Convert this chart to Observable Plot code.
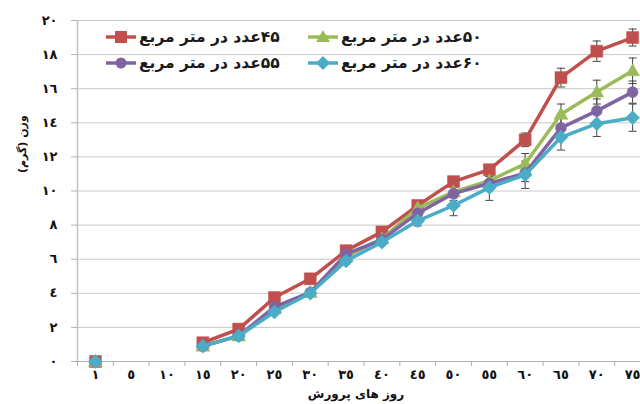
<!DOCTYPE html>
<html>
<head>
<meta charset="utf-8">
<script src="https://cdn.jsdelivr.net/npm/d3@7"></script>
<script src="https://cdn.jsdelivr.net/npm/@observablehq/plot@0.6"></script>
<style>
  html, body { margin: 0; padding: 0; background: #fff; overflow: hidden; }
  #wrap { position: relative; width: 640px; height: 404px; }
  .leg { position: absolute; display: flex; align-items: center; font-family: "DejaVu Sans", sans-serif; font-size: 15.5px; font-weight: bold; color: #1a1a1a; white-space: nowrap; }
  .leg span { direction: rtl; unicode-bidi: isolate; margin-left: 3px; }
</style>
</head>
<body>
<div id="wrap"></div>
<script>
// ---- data ----
const days = [1, 5, 10, 15, 20, 25, 30, 35, 40, 45, 50, 55, 60, 65, 70, 75];
const xTickLabels = ["١","٥","١٠","١٥","٢٠","٢٥","٣٠","٣٥","٤٠","٤٥","٥٠","٥٥","٦٠","٦٥","٧٠","٧٥"];
const yTicks = [0, 2, 4, 6, 8, 10, 12, 14, 16, 18, 20];
const yTickLabels = ["٠","٢","٤","٦","٨","١٠","١٢","١٤","١٦","١٨","٢٠"];
const seriesNames = ["۴۵عدد در متر مربع", "۵۰عدد در متر مربع", "۵۵عدد در متر مربع", "۶۰عدد در متر مربع"];
const seriesColors = ["#C0504D", "#9BBB59", "#8064A2", "#4BACC6"];

const w45 = [0, null, null, 1.1, 1.9, 3.75, 4.85, 6.5, 7.6, 9.15, 10.55, 11.25, 13.0, 16.65, 18.2, 19.0];
const w50 = [0, null, null, 0.9, 1.5, 3.1, 4.05, 6.15, 7.2, 9.0, 9.95, 10.6, 11.6, 14.5, 15.8, 17.05];
const w55 = [0, null, null, 0.9, 1.5, 3.2, 4.05, 6.3, 7.15, 8.7, 9.85, 10.45, 11.05, 13.7, 14.7, 15.8];
const w60 = [0, null, null, 0.9, 1.5, 2.9, 4.0, 5.9, 7.0, 8.25, 9.15, 10.2, 10.95, 13.15, 13.95, 14.3];

const e45 = [0, null, null, 0.1, 0.15, 0.2, 0.2, 0.2, 0.2, 0.25, 0.3, 0.25, 0.4, 0.55, 0.6, 0.5];
const e50 = [0, null, null, 0.1, 0.1, 0.15, 0.15, 0.2, 0.2, 0.3, 0.35, 0.35, 0.6, 0.6, 0.7, 0.75];
const e55 = [0, null, null, 0.1, 0.1, 0.15, 0.15, 0.2, 0.2, 0.3, 0.4, 0.4, 0.5, 0.6, 0.7, 0.65];
const e60 = [0, null, null, 0.1, 0.1, 0.15, 0.15, 0.2, 0.2, 0.3, 0.6, 0.75, 0.8, 0.75, 0.75, 0.8];

const values = [w45, w50, w55, w60];
const errors = [e45, e50, e55, e60];

// ---- symbols ----
const symSquare = {draw(c) { c.rect(-6, -6, 12, 12); }};
const symTriangle = {draw(c) { c.moveTo(0, -7); c.lineTo(7, 5); c.lineTo(-7, 5); c.closePath(); }};
const symCircle = {draw(c) { c.moveTo(5.5, 0); c.arc(0, 0, 5.5, 0, 2 * Math.PI); }};
const symDiamond = {draw(c) { c.moveTo(0, -7); c.lineTo(7, 0); c.lineTo(0, 7); c.lineTo(-7, 0); c.closePath(); }};
const symCap = {draw(c) { c.moveTo(-4, 0); c.lineTo(4, 0); }};
const symbols = [symSquare, symTriangle, symCircle, symDiamond];

// ---- table ----
const rows = [];
values.forEach((vals, s) => vals.forEach((v, i) => rows.push({s, i, day: days[i], v, e: errors[s][i]})));

const seriesMarks = [];
for (let s = 0; s < 4; s++) {
  const data = rows.filter(r => r.s === s);
  const withVal = data.filter(r => r.v != null);
  const withErr = withVal.filter(r => r.e > 0);
  seriesMarks.push(
    Plot.ruleX(withErr, {x: "i", y1: r => r.v - r.e, y2: r => r.v + r.e, stroke: "#444", strokeWidth: 1}),
    Plot.dot(withErr, {x: "i", y: r => r.v - r.e, symbol: symCap, stroke: "#444", fill: "none", strokeWidth: 1}),
    Plot.dot(withErr, {x: "i", y: r => r.v + r.e, symbol: symCap, stroke: "#444", fill: "none", strokeWidth: 1})
  );
}
for (let s = 0; s < 4; s++) {
  const data = rows.filter(r => r.s === s);
  seriesMarks.push(
    Plot.line(data.filter(r => r.i > 0), {x: "i", y: "v", stroke: seriesColors[s], strokeWidth: 3.5, curve: "linear"}),
    Plot.dot(data.filter(r => r.v != null), {x: "i", y: "v", symbol: symbols[s], fill: seriesColors[s], stroke: seriesColors[s], strokeWidth: 0.5, r: 6})
  );
}

const bounds = d3.range(days.length + 1).map(i => i - 0.5);

const chart = Plot.plot({
  width: 640,
  height: 404,
  marginTop: 20,
  marginBottom: 43,
  marginLeft: 77,
  marginRight: 0,
  style: {fontFamily: "DejaVu Sans, sans-serif", background: "white", overflow: "hidden"},
  x: {type: "linear", domain: [-0.5, days.length - 0.5], range: [77, 650], label: null},
  y: {domain: [0, 20], label: null},
  marks: [
    Plot.gridY(yTicks.slice(1), {stroke: "#c8c8c8", strokeOpacity: 1, strokeWidth: 1}),
    Plot.ruleY([0], {stroke: "#b0b0b0", strokeWidth: 1}),
    Plot.ruleX([-0.5], {stroke: "#c0c0c0", strokeWidth: 1.5}),
    Plot.ruleX(bounds, {y1: 0, y2: 0, insetBottom: -5, stroke: "#b0b0b0"}),
    Plot.axisY(yTicks, {tickSize: 6, tickPadding: 14, stroke: "#b0b0b0", tickFormat: (d) => yTickLabels[yTicks.indexOf(d)], fontSize: 13, fontWeight: "bold", fill: "#111", label: null}),
    Plot.axisX(d3.range(days.length), {tickSize: 0, tickPadding: 8, tickFormat: (i) => xTickLabels[i], fontSize: 13, fontWeight: "bold", fill: "#111", label: null}),
    ...seriesMarks,
    Plot.text(["وزن (گرم)"], {frameAnchor: "left", rotate: -90, dx: -55, dy: -18, fontSize: 11, fontWeight: "bold", fill: "#111"}),
    Plot.text(["روز های پرورش"], {frameAnchor: "bottom", dy: 36, dx: -3, fontSize: 12, fontWeight: "bold", fill: "#111"})
  ]
});

const wrap = document.getElementById("wrap");
wrap.appendChild(chart);

// ---- legend (overlay inside the plot area) ----
const legendPos = [[106, 37], [308, 37], [106, 63], [308, 63]];
const symbolPaths = [
  '<rect x="9" y="2" width="12" height="12"/>',
  '<path d="M15 1 L22 13 L8 13 Z"/>',
  '<circle cx="15" cy="8" r="5.5"/>',
  '<path d="M15 1 L22 8 L15 15 L8 8 Z"/>'
];
seriesNames.forEach((name, s) => {
  const d = document.createElement("div");
  d.className = "leg";
  d.style.left = legendPos[s][0] + "px";
  d.style.top = (legendPos[s][1] - 9) + "px";
  d.style.height = "18px";
  d.innerHTML = `<svg width="30" height="16" style="display:block"><line x1="0" x2="30" y1="8" y2="8" stroke="${seriesColors[s]}" stroke-width="3.5"/><g fill="${seriesColors[s]}">${symbolPaths[s]}</g></svg><span>${name}</span>`;
  wrap.appendChild(d);
});
</script>
</body>
</html>
